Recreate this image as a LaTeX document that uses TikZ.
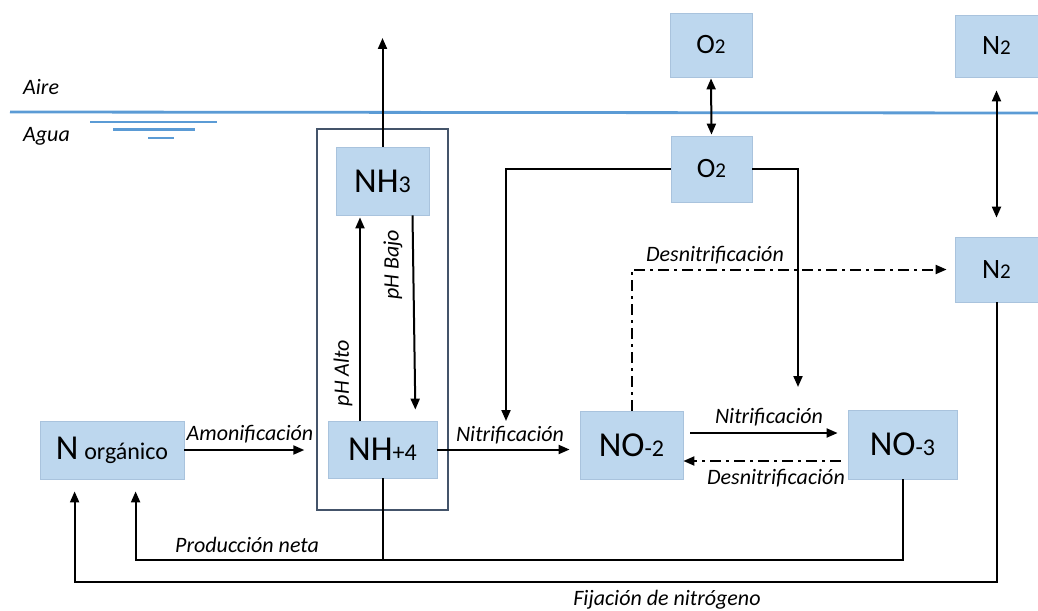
\documentclass[tikz,border=0pt]{standalone}
\usepackage{fontspec}
\setmainfont{Carlito}
\usetikzlibrary{arrows.meta}
\definecolor{boxfill}{HTML}{BDD7EE}
\definecolor{boxline}{HTML}{A9C3DD}
\definecolor{water}{HTML}{5B9BD5}
\definecolor{frame}{HTML}{44546A}
\newcommand\chemL{\fontsize{35}{40}\selectfont}
\newcommand\chemS{\fontsize{24}{28}\selectfont}
\newcommand\gasL{\fontsize{28}{32}\selectfont}
\newcommand\gasS{\fontsize{21}{24}\selectfont}
\tikzset{
  species/.style={draw=boxline, line width=0.8pt, fill=boxfill, inner sep=0pt, anchor=center},
  flow/.style={line width=2pt, -{Triangle[length=11pt,width=9pt]}},
  twoway/.style={line width=2pt, {Triangle[length=11pt,width=9pt]}-{Triangle[length=11pt,width=9pt]}},
  dashdot/.style={dash pattern=on 11pt off 5pt on 3pt off 5pt},
  lbl/.style={font=\fontsize{22}{26}\selectfont\itshape, inner sep=0pt},
}
\begin{document}
\begin{tikzpicture}[x=1pt, y=-1pt]
\useasboundingbox (0,0) rectangle (1038,610);

% air / water interface
\draw[water, line width=2.8pt] (10,112) -- (1038,113);
\draw[water, line width=2.6pt] (90,122) -- (217,122);
\draw[water, line width=2.6pt] (113,129.5) -- (195,129.5);
\draw[water, line width=2.6pt] (148,138) -- (174,138);
\node[lbl, anchor=west] (aire) at (23,87) {Aire};
\node[lbl, anchor=west] (agua) at (23,136) {Agua};

% enclosure around the ammonia equilibrium
\node[draw=frame, line width=1.4pt, minimum width=131pt, minimum height=381pt, inner sep=0pt] (encl) at (382.5,319.5) {};

% species
\node[species, minimum width=144pt, minimum height=58pt] (norg) at (112,450) {\chemL N\,\chemS orgánico};
\node[species, minimum width=109pt, minimum height=57pt] (nh4) at (382.5,449.5) {\chemL NH\chemS +4};
\node[species, minimum width=93pt, minimum height=68pt] (nh3) at (382.5,181) {\chemL NH\chemS 3};
\node[species, minimum width=103pt, minimum height=68pt] (no2) at (631.5,445) {\chemL NO\chemS -2};
\node[species, minimum width=109pt, minimum height=69pt] (no3) at (902.5,444.5) {\chemL NO\chemS -3};
\node[species, minimum width=82pt, minimum height=64pt] (o2a) at (711,45) {\gasL O\gasS 2};
\node[species, minimum width=83pt, minimum height=62pt] (n2a) at (996.5,46) {\gasL N\gasS 2};
\node[species, minimum width=81pt, minimum height=66pt] (o2w) at (711.5,169) {\gasL O\gasS 2};
\node[species, minimum width=83pt, minimum height=65pt] (n2w) at (996.5,269.5) {\gasL N\gasS 2};

% volatilisation of ammonia
\coordinate (volat) at (382.5,38);
\draw[flow] (nh3.north) -- (volat);

% ammonia / ammonium equilibrium
\draw[flow, shorten >=2pt] ([xshift=-22.5pt]nh4.north) -- ([xshift=-22.5pt]nh3.south);
\draw[flow, shorten >=11pt] ([xshift=30pt]nh3.south) -- ([xshift=33pt]nh4.north);
\node[lbl, rotate=90] (phalto) at (343,373) {pH Alto};
\node[lbl, rotate=90] (phbajo) at (393,265) {pH Bajo};

% ammonification and nitrification
\draw[flow, shorten >=12pt] (norg.east) -- (norg.east -| encl.west);
\node[lbl] (amon) at (250,434) {Amonificación};
\draw[flow, shorten >=10pt] (nh4.east) -- (nh4.east -| no2.west);
\node[lbl] (nitr1) at (510,435) {Nitrificación};
\draw[flow, shorten <=7pt, shorten >=10pt] (no2.east |- 0,433) -- (no3.west |- 0,433);
\node[lbl] (nitr2) at (769,417) {Nitrificación};

% denitrification
\draw[flow, dashdot, shorten <=7pt] (no3.west |- 0,461) -- (no2.east |- 0,461);
\node[lbl] (desn2) at (776,478) {Desnitrificación};
\draw[flow, dashdot, shorten >=8pt] (no2.north) |- (n2w.west);
\node[lbl] (desn1) at (715,255) {Desnitrificación};

% oxygen supply
\coordinate (oxnit) at (506,421);
\coordinate (oxno3) at (798,387);
\draw[flow] (o2w.west) -| (oxnit);
\draw[flow] (o2w.east) -| (oxno3);

% gas exchange with the air
\draw[twoway, shorten <=1pt, shorten >=1pt] (o2a.south) -- (o2w.north);
\draw[twoway, shorten <=13pt, shorten >=19pt] (n2a.south) -- (n2w.north);

% return paths to organic nitrogen
\draw[flow, shorten >=12pt] (n2w.south) |- ([xshift=35pt]norg.south west |- 0,582) -- ([xshift=35pt]norg.south west);
\node[lbl] (fijac) at (667,600) {Fijación de nitrógeno};
\draw[flow, shorten >=12pt] (no3.south) |- ([xshift=96pt]norg.south west |- 0,560) -- ([xshift=96pt]norg.south west);
\draw[line width=2pt] (nh4.south) -- (nh4.south |- 0,560);
\node[lbl] (prodn) at (247,545) {Producción neta};
\end{tikzpicture}
\end{document}
